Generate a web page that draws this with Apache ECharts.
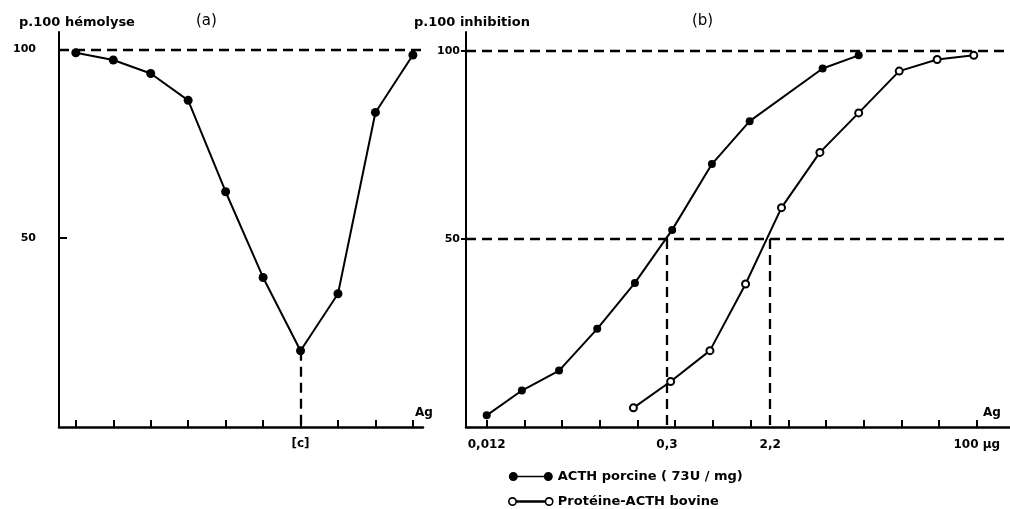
<!DOCTYPE html>
<html><head><meta charset="utf-8">
<script src="https://cdn.jsdelivr.net/npm/echarts@6/dist/echarts.min.js"></script>
<style>html,body{margin:0;padding:0;background:#fff}#c{width:1010px;height:509px}</style>
</head><body><div id="c"></div>
<script>
// ---- Panel (a): p.100 hémolyse ----
const hemoIndex = [0, 1, 2, 3, 4, 5, 6, 7, 8, 9];
const hemoValues = [99.1, 97.2, 93.6, 86.5, 62.3, 39.6, 20.2, 35.3, 83.3, 98.5];
const hemoTicks = [0, 1, 2, 3, 4, 5, 6, 7, 8, 9];
const hemoCIndex = [6];
const hemoCLabel = '[c]';
const yTicks = [50, 100];

// ---- Panel (b): p.100 inhibition (µg, doubling dilutions) ----
const acthDoses = [0.012, 0.0229, 0.0454, 0.0915, 0.183, 0.363, 0.754, 1.51, 5.77, 11.2];
const acthValues = [3.1, 9.7, 15.0, 26.1, 38.3, 52.4, 69.9, 81.3, 95.3, 98.8];
const bovDoses = [0.178, 0.353, 0.727, 1.40, 2.71, 5.49, 11.2, 23.6, 47.4, 93];
const bovValues = [5.1, 12.1, 20.3, 38.0, 58.3, 73.0, 83.5, 94.6, 97.7, 98.8];
const doseTicks = [0.012, 0.024, 0.048, 0.096, 0.192, 0.384, 0.768, 1.536, 3.072, 6.144, 12.29, 24.58, 49.15, 98.3];
const doseLabelValues = [0.012, 0.33, 2.2, 98.3];
const doseLabelTexts = ['0,012', '0,3', '2,2', '100 µg'];
const halfDoses = [0.33, 2.2];
const seriesNames = ['ACTH porcine ( 73U / mg)', 'Protéine-ACTH bovine'];

const FONT = 'DejaVu Sans';
const txt = (size, weight) => ({fontFamily: FONT, fontSize: size, fontWeight: weight || 'bold', color: '#000'});
const dash = {color: '#000', width: 2.3, type: [10, 6]};
const mlBase = {silent: true, symbol: ['none', 'none'], label: {show: false}, lineStyle: dash, emphasis: {disabled: true}};

const iconFilled = 'path://M4.5,0 A4.5,4.5 0 1,1 4.5,9 A4.5,4.5 0 1,1 4.5,0 Z M39.5,0 A4.5,4.5 0 1,1 39.5,9 A4.5,4.5 0 1,1 39.5,0 Z M8,3.7 L36,3.7 L36,5.3 L8,5.3 Z';
const iconOpen = 'path://M4.5,1 A3.5,3.5 0 1,1 4.5,8 A3.5,3.5 0 1,1 4.5,1 Z M39.5,1 A3.5,3.5 0 1,1 39.5,8 A3.5,3.5 0 1,1 39.5,1 Z M8,4 L36,4 L36,5 L8,5 Z';

const chart = echarts.init(document.getElementById('c'), null, {renderer: 'canvas'});
chart.setOption({
  animation: false,
  backgroundColor: '#fff',
  title: [
    {text: 'p.100 hémolyse', left: 19, top: 16, padding: 0, textStyle: txt(13)},
    {text: '(a)', left: 196, top: 14, padding: 0, textStyle: txt(15, 'normal')},
    {text: 'p.100 inhibition', left: 414, top: 16, padding: 0, textStyle: txt(13)},
    {text: '(b)', left: 692, top: 14, padding: 0, textStyle: txt(15, 'normal')}
  ],
  legend: {
    orient: 'vertical', left: 508, top: 470, itemWidth: 44, itemHeight: 9, itemGap: 12,
    selectedMode: false, padding: 0,
    textStyle: txt(13),
    data: [
      {name: seriesNames[0], icon: iconFilled, itemStyle: {color: '#000', borderWidth: 0}},
      {name: seriesNames[1], icon: iconOpen, itemStyle: {color: '#fff', borderColor: '#000', borderWidth: 1.6}}
    ]
  },
  grid: [
    {left: 59, top: 32, width: 364, height: 395, outerBoundsMode: 'none'},
    {left: 466, top: 32, right: 0, height: 395, outerBoundsMode: 'none'}
  ],
  xAxis: [
    {
      type: 'value', gridIndex: 0, min: -0.449, max: 9.27,
      axisLine: {show: true, onZero: false, lineStyle: {color: '#000', width: 2.5}},
      axisTick: {show: true, inside: true, length: 7, customValues: hemoTicks, lineStyle: {color: '#000', width: 2}},
      axisLabel: {show: true, margin: 11, customValues: hemoCIndex, formatter: () => hemoCLabel, ...txt(12)},
      splitLine: {show: false},
      name: 'Ag', nameLocation: 'end', nameGap: 1,
      nameTextStyle: {...txt(12), align: 'center', verticalAlign: 'bottom', padding: [0, 0, 8, 0]}
    },
    {
      type: 'log', logBase: 2, gridIndex: 1, min: 0.0082, max: 180.9,
      axisLine: {show: true, onZero: false, lineStyle: {color: '#000', width: 2.5}},
      axisTick: {show: true, inside: true, length: 7, customValues: doseTicks, lineStyle: {color: '#000', width: 2}},
      axisLabel: {
        show: true, margin: 12, customValues: doseLabelValues, ...txt(12),
        formatter: (v) => {
          let best = 0;
          doseLabelValues.forEach((d, i) => { if (Math.abs(Math.log(d / v)) < Math.abs(Math.log(doseLabelValues[best] / v))) best = i; });
          return doseLabelTexts[best];
        }
      },
      splitLine: {show: false},
      name: 'Ag', nameLocation: 'end', nameGap: -18,
      nameTextStyle: {...txt(12), align: 'center', verticalAlign: 'bottom', padding: [0, 0, 8, 0]}
    }
  ],
  yAxis: [
    {
      type: 'value', gridIndex: 0, min: 0, max: 104.6,
      axisLine: {show: true, onZero: false, lineStyle: {color: '#000', width: 2}},
      axisTick: {show: true, inside: true, length: 8, customValues: yTicks, lineStyle: {color: '#000', width: 2}},
      axisLabel: {show: true, margin: 23, customValues: yTicks, ...txt(11)},
      splitLine: {show: false}
    },
    {
      type: 'value', gridIndex: 1, min: 0, max: 105,
      axisLine: {show: true, onZero: false, lineStyle: {color: '#000', width: 2}},
      axisTick: {show: true, inside: false, length: 5, customValues: yTicks, lineStyle: {color: '#000', width: 2}},
      axisLabel: {show: true, margin: 6, customValues: yTicks, ...txt(11)},
      splitLine: {show: false}
    }
  ],
  series: [
    {
      name: 'hémolyse', type: 'line', xAxisIndex: 0, yAxisIndex: 0,
      data: hemoIndex.map((x, i) => [x, hemoValues[i]]),
      symbol: 'circle', symbolSize: 9, itemStyle: {color: '#000'},
      lineStyle: {color: '#000', width: 2}, z: 3,
      markLine: {...mlBase, data: [
        {yAxis: 100},
        [{coord: [hemoCIndex[0], hemoValues[hemoCIndex[0]]]}, {coord: [hemoCIndex[0], 0]}]
      ]}
    },
    {
      name: seriesNames[0], type: 'line', xAxisIndex: 1, yAxisIndex: 1,
      data: acthDoses.map((x, i) => [x, acthValues[i]]),
      symbol: 'circle', symbolSize: 8, itemStyle: {color: '#000'},
      lineStyle: {color: '#000', width: 2}, z: 3,
      markLine: {...mlBase, data: [
        {yAxis: 100}, {yAxis: 50},
        [{coord: [halfDoses[0], 50]}, {coord: [halfDoses[0], 0]}],
        [{coord: [halfDoses[1], 50]}, {coord: [halfDoses[1], 0]}]
      ]}
    },
    {
      name: seriesNames[1], type: 'line', xAxisIndex: 1, yAxisIndex: 1,
      data: bovDoses.map((x, i) => [x, bovValues[i]]),
      symbol: 'circle', symbolSize: 7, itemStyle: {color: '#fff', borderColor: '#000', borderWidth: 2},
      lineStyle: {color: '#000', width: 2}, z: 4
    }
  ]
});
</script></body></html>
